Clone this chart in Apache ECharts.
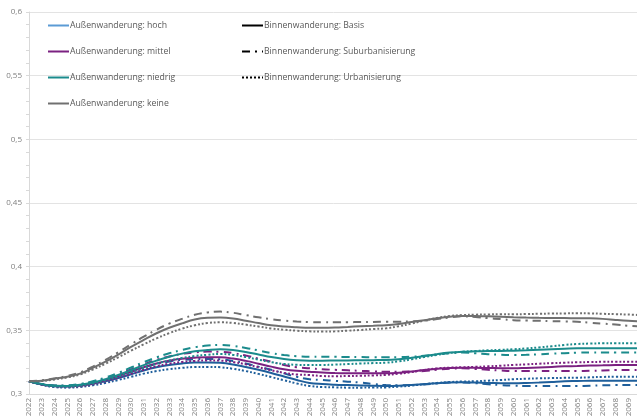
<!DOCTYPE html>
<html>
<head>
<meta charset="utf-8">
<script src="https://cdn.jsdelivr.net/npm/echarts@6/dist/echarts.min.js"></script>
<style>
  html, body { margin: 0; padding: 0; background: #fff; }
  #chart { width: 637px; height: 418px; }
</style>
</head>
<body>
<div id="chart"></div>
<script>
// years on the x axis (2070 is cut off at the right edge)
var years = [];
for (var y = 2022; y <= 2070; y++) years.push(String(y));

// Außenwanderung hoch
var hochBasis = [0.310, 0.3075, 0.306, 0.3058, 0.3065, 0.308, 0.310, 0.3125, 0.3155, 0.3185, 0.321, 0.3228, 0.324, 0.3247, 0.3248, 0.3245, 0.3232, 0.3212, 0.319, 0.3165, 0.3137, 0.311, 0.3087, 0.3078, 0.3073, 0.307, 0.3067, 0.3064, 0.3063, 0.3065, 0.307, 0.3078, 0.3085, 0.309, 0.3092, 0.309, 0.3087, 0.3085, 0.3084, 0.3086, 0.309, 0.3095, 0.310, 0.3102, 0.3104, 0.3105, 0.3105, 0.3105, 0.3105];
var hochSub = [0.310, 0.3078, 0.3065, 0.3063, 0.307, 0.3088, 0.3112, 0.3142, 0.3175, 0.3207, 0.3235, 0.3255, 0.3268, 0.3274, 0.3275, 0.3272, 0.326, 0.324, 0.3215, 0.319, 0.3162, 0.3135, 0.3115, 0.311, 0.3103, 0.3097, 0.309, 0.3078, 0.307, 0.3068, 0.307, 0.3075, 0.3083, 0.309, 0.309, 0.3085, 0.3077, 0.307, 0.3065, 0.3063, 0.3063, 0.3063, 0.3063, 0.3063, 0.3065, 0.3068, 0.307, 0.307, 0.307];
var hochUrb = [0.310, 0.3072, 0.3055, 0.305, 0.3055, 0.3068, 0.3087, 0.311, 0.3135, 0.316, 0.318, 0.3195, 0.3205, 0.3212, 0.3213, 0.321, 0.3198, 0.318, 0.3158, 0.3133, 0.3108, 0.3083, 0.3063, 0.3055, 0.3052, 0.305, 0.305, 0.3051, 0.3052, 0.3058, 0.3066, 0.3077, 0.3087, 0.3094, 0.3098, 0.310, 0.3105, 0.311, 0.3116, 0.312, 0.3123, 0.3125, 0.3127, 0.3128, 0.3131, 0.3134, 0.3136, 0.3136, 0.3136];

// Außenwanderung mittel
var mittelBasis = [0.310, 0.3077, 0.3062, 0.306, 0.3068, 0.3085, 0.311, 0.314, 0.3175, 0.321, 0.324, 0.3262, 0.3277, 0.3285, 0.3289, 0.3288, 0.3278, 0.326, 0.3238, 0.3215, 0.3195, 0.3182, 0.3175, 0.3168, 0.3165, 0.3163, 0.3162, 0.3162, 0.3162, 0.3167, 0.3176, 0.3189, 0.3198, 0.3205, 0.3207, 0.3206, 0.3204, 0.3203, 0.3202, 0.3205, 0.3209, 0.3213, 0.3217, 0.322, 0.3223, 0.3225, 0.3227, 0.3228, 0.3228];
var mittelSub = [0.310, 0.3078, 0.3065, 0.3064, 0.3074, 0.3093, 0.312, 0.3155, 0.3193, 0.3232, 0.3268, 0.3295, 0.3315, 0.3327, 0.3333, 0.3332, 0.3322, 0.3302, 0.3278, 0.3253, 0.3228, 0.321, 0.3202, 0.3194, 0.319, 0.3186, 0.3182, 0.3178, 0.3175, 0.3175, 0.3177, 0.318, 0.319, 0.3198, 0.3202, 0.3197, 0.319, 0.3184, 0.318, 0.318, 0.318, 0.318, 0.318, 0.318, 0.3182, 0.3185, 0.3188, 0.3189, 0.3189];
var mittelUrb = [0.310, 0.3074, 0.3058, 0.3054, 0.3061, 0.3076, 0.3099, 0.3127, 0.3158, 0.319, 0.3217, 0.3238, 0.3252, 0.326, 0.3263, 0.3262, 0.3251, 0.3233, 0.321, 0.3187, 0.3166, 0.3153, 0.3149, 0.3141, 0.314, 0.3141, 0.3143, 0.3146, 0.315, 0.3159, 0.3172, 0.3189, 0.3201, 0.3207, 0.321, 0.3213, 0.3217, 0.3222, 0.3228, 0.3233, 0.3238, 0.3242, 0.3246, 0.3249, 0.3251, 0.3253, 0.3254, 0.3254, 0.3254];

// Außenwanderung niedrig
var niedrigBasis = [0.310, 0.3078, 0.3064, 0.3063, 0.3072, 0.309, 0.3117, 0.315, 0.3188, 0.3227, 0.3262, 0.3293, 0.3317, 0.3335, 0.3345, 0.3351, 0.3345, 0.333, 0.331, 0.329, 0.3275, 0.3266, 0.3262, 0.3262, 0.3263, 0.3264, 0.3265, 0.3266, 0.3267, 0.3273, 0.3284, 0.3298, 0.3313, 0.3325, 0.3332, 0.3335, 0.3337, 0.3338, 0.334, 0.3343, 0.3347, 0.3351, 0.3355, 0.3359, 0.336, 0.336, 0.336, 0.3359, 0.3359];
var niedrigSub = [0.310, 0.308, 0.3067, 0.3068, 0.3079, 0.310, 0.313, 0.3167, 0.3208, 0.325, 0.3288, 0.332, 0.3346, 0.3367, 0.338, 0.3385, 0.3378, 0.3362, 0.3342, 0.3322, 0.3306, 0.3297, 0.3293, 0.3293, 0.3292, 0.3291, 0.329, 0.3289, 0.3288, 0.3289, 0.3293, 0.330, 0.331, 0.332, 0.3325, 0.332, 0.3313, 0.3308, 0.3306, 0.3308, 0.3312, 0.3317, 0.3321, 0.3325, 0.3326, 0.3326, 0.3325, 0.3325, 0.3325];
var niedrigUrb = [0.310, 0.3076, 0.306, 0.3057, 0.3065, 0.3082, 0.3107, 0.3138, 0.3172, 0.3206, 0.3237, 0.3263, 0.3283, 0.3298, 0.3308, 0.3314, 0.3307, 0.329, 0.327, 0.325, 0.3236, 0.3229, 0.3228, 0.3228, 0.3231, 0.3235, 0.3239, 0.3243, 0.3246, 0.3256, 0.3272, 0.329, 0.3307, 0.3322, 0.3332, 0.3338, 0.3343, 0.3347, 0.3351, 0.3358, 0.3366, 0.3375, 0.3385, 0.3393, 0.3396, 0.3398, 0.3398, 0.3398, 0.3398];

// Außenwanderung keine
var keineBasis = [0.310, 0.3105, 0.312, 0.3136, 0.316, 0.3205, 0.3254, 0.331, 0.337, 0.3425, 0.3477, 0.352, 0.3555, 0.3585, 0.3598, 0.360, 0.3593, 0.3576, 0.3557, 0.354, 0.353, 0.3524, 0.352, 0.352, 0.3522, 0.3527, 0.3532, 0.3536, 0.354, 0.355, 0.3565, 0.358, 0.3595, 0.3607, 0.3613, 0.3612, 0.361, 0.3607, 0.3603, 0.360, 0.3598, 0.3597, 0.3596, 0.3595, 0.3594, 0.359, 0.3582, 0.3575, 0.357];
var keineSub = [0.310, 0.3107, 0.3122, 0.3142, 0.317, 0.3215, 0.3268, 0.3328, 0.339, 0.345, 0.3505, 0.3553, 0.359, 0.3622, 0.364, 0.3647, 0.3638, 0.362, 0.3602, 0.3587, 0.3576, 0.3569, 0.3565, 0.3563, 0.3563, 0.3564, 0.3565, 0.3566, 0.3567, 0.3568, 0.357, 0.3576, 0.3588, 0.3601, 0.361, 0.3605, 0.3596, 0.3588, 0.358, 0.3577, 0.3575, 0.3572, 0.357, 0.3567, 0.356, 0.3553, 0.3545, 0.3536, 0.353];
var keineUrb = [0.310, 0.3102, 0.3114, 0.313, 0.3153, 0.3192, 0.3238, 0.3288, 0.334, 0.339, 0.3437, 0.3478, 0.3513, 0.354, 0.3557, 0.3563, 0.3558, 0.3545, 0.353, 0.3515, 0.3505, 0.3497, 0.3492, 0.349, 0.3492, 0.3497, 0.3503, 0.351, 0.3516, 0.3532, 0.3553, 0.3576, 0.3597, 0.3612, 0.362, 0.3623, 0.3625, 0.3626, 0.3626, 0.3628, 0.363, 0.3632, 0.3633, 0.3634, 0.3633, 0.363, 0.3627, 0.3624, 0.362];

var aussenNames = ['Außenwanderung: hoch', 'Außenwanderung: mittel', 'Außenwanderung: niedrig', 'Außenwanderung: keine'];
var binnenNames = ['Binnenwanderung: Basis', 'Binnenwanderung: Suburbanisierung', 'Binnenwanderung: Urbanisierung'];

var lineColors = ['#1f5f9b', '#7b2181', '#1b8b8c', '#707070'];
var legendColors = ['#5b9bd5', '#7b2181', '#1b8b8c', '#707070'];
var dashTypes = ['solid', [8, 5, 2, 5], [2, 2]];

var data = [
  [hochBasis, hochSub, hochUrb],
  [mittelBasis, mittelSub, mittelUrb],
  [niedrigBasis, niedrigSub, niedrigUrb],
  [keineBasis, keineSub, keineUrb]
];

var series = [];
// the drawn lines
data.forEach(function (group, i) {
  group.forEach(function (vals, j) {
    series.push({
      name: 'line' + i + '_' + j,
      type: 'line',
      data: vals,
      smooth: 0.4,
      symbol: 'none',
      z: 2,
      lineStyle: { color: lineColors[i], width: 2, type: dashTypes[j] }
    });
  });
});
// legend-only entries
aussenNames.forEach(function (n, i) {
  series.push({
    name: n, type: 'line', data: [], symbol: 'none',
    itemStyle: { color: legendColors[i] },
    lineStyle: { color: legendColors[i], width: 2.5, type: 'solid' }
  });
});
binnenNames.forEach(function (n, j) {
  series.push({
    name: n, type: 'line', data: [], symbol: 'none',
    itemStyle: { color: '#000' },
    lineStyle: { color: '#000', width: 2.5, type: dashTypes[j] }
  });
});

var legendBase = {
  orient: 'vertical',
  top: 21,
  padding: 0,
  itemWidth: 21,
  itemHeight: 10,
  itemGap: 17,
  selectedMode: false,
  itemStyle: { opacity: 0 },
  textStyle: { color: '#595959', fontSize: 8.7, fontFamily: 'Open Sans', padding: [0, 0, 0, -4] }
};

var chart = echarts.init(document.getElementById('chart'), null, { renderer: 'canvas' });
chart.setOption({
  animation: false,
  backgroundColor: '#fff',
  legend: [
    Object.assign({}, legendBase, { left: 47, data: aussenNames }),
    Object.assign({}, legendBase, { left: 241, data: binnenNames })
  ],
  grid: { left: 29, right: -4, top: 12, bottom: 24, outerBoundsMode: 'none', containLabel: false },
  xAxis: {
    type: 'category',
    data: years,
    boundaryGap: false,
    axisLine: { lineStyle: { color: '#d9d9d9' } },
    axisTick: { show: false },
    axisLabel: {
      interval: 0, rotate: 90, color: '#808080', fontSize: 8,
      fontFamily: 'Open Sans', margin: 4
    }
  },
  yAxis: {
    type: 'value',
    min: 0.3,
    max: 0.6,
    interval: 0.05,
    axisLine: { show: true, lineStyle: { color: '#d9d9d9' } },
    axisTick: { show: true, length: 3, lineStyle: { color: '#d9d9d9' } },
    minorTick: { show: true, splitNumber: 5, length: 3, lineStyle: { color: '#d9d9d9' } },
    splitLine: { lineStyle: { color: '#e3e3e3' } },
    axisLabel: {
      color: '#808080', fontSize: 8, fontFamily: 'Open Sans', margin: 7,
      formatter: function (v) { return String(+v.toFixed(2)).replace('.', ','); }
    }
  },
  series: series
});
</script>
</body>
</html>
